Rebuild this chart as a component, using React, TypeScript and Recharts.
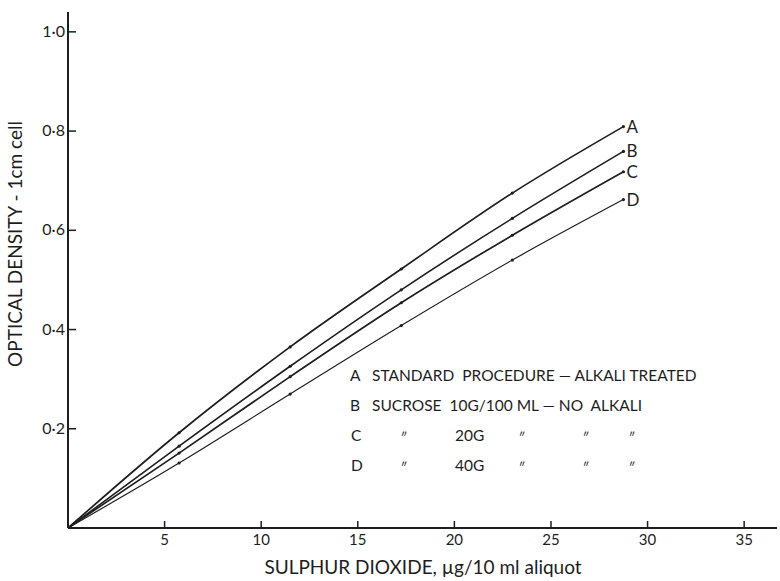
import React from "react";
import { LineChart, Line, XAxis, YAxis, LabelList, Customized } from "recharts";

// SO2 (µg / 10 ml aliquot) at which each standard was read
const so2 = [0, 5.75, 11.5, 17.25, 23, 28.75];

// optical density, 1 cm cell
const curveA = [0, 0.192, 0.365, 0.522, 0.675, 0.809];
const curveB = [0, 0.165, 0.326, 0.48, 0.624, 0.759];
const curveC = [0, 0.151, 0.305, 0.454, 0.59, 0.718];
const curveD = [0, 0.131, 0.27, 0.408, 0.54, 0.662];

const xTicks = [5, 10, 15, 20, 25, 30, 35];
const yTicks = [0.2, 0.4, 0.6, 0.8, 1.0];

const keyRows = [
  ["A", "STANDARD  PROCEDURE — ALKALI TREATED"],
  ["B", "SUCROSE  10G/100 ML — NO  ALKALI"],
  ["C", "″", "20G", "″", "″", "″"],
  ["D", "″", "40G", "″", "″", "″"],
];

const data = so2.map((x, i) => ({
  x,
  A: curveA[i],
  B: curveB[i],
  C: curveC[i],
  D: curveD[i],
}));

const INK = "#1e1e1e";
const FONT = "Lato, 'Open Sans', sans-serif";

const XTick = (props: any) => {
  const { x, y, payload } = props;
  return (
    <g>
      <line x1={x} x2={x} y1={y} y2={y - 7} stroke={INK} strokeWidth={1.5} />
      <text x={x} y={y + 17} textAnchor="middle" fontSize={15} fill={INK} fontFamily={FONT}>
        {payload.value}
      </text>
    </g>
  );
};

const YTick = (props: any) => {
  const { x, y, payload } = props;
  return (
    <g>
      <line x1={x} x2={x + 8} y1={y} y2={y} stroke={INK} strokeWidth={1.5} />
      <text x={x - 3} y={y + 5} textAnchor="end" fontSize={16} fill={INK} fontFamily={FONT}>
        {payload.value.toFixed(1).replace(".", "·")}
      </text>
    </g>
  );
};

const endLabel = (name: string) => (props: any) => {
  const { x, y, index } = props;
  if (index !== so2.length - 1) return null;
  return (
    <text x={x + 3} y={y + 6} fontSize={17} fill={INK} fontFamily={FONT}>
      {name}
    </text>
  );
};

const Key = () => {
  const cols = [400, 455, 518, 582, 628];
  return (
    <g fontFamily={FONT} fill={INK} fontSize={15.5}>
      {keyRows.map((row, r) => {
        const y = 381 + r * 30;
        if (row.length === 2) {
          return (
            <g key={r}>
              <text x={350} y={y}>{row[0]}</text>
              <text x={372} y={y} style={{ whiteSpace: "pre" }}>{row[1]}</text>
            </g>
          );
        }
        return (
          <g key={r}>
            <text x={351} y={y}>{row[0]}</text>
            {row.slice(1).map((t, j) => (
              <text
                key={j}
                x={cols[j]}
                y={t === "″" ? y + 2 : y}
                fontStyle={t === "″" ? "italic" : "normal"}
                fontSize={t === "″" ? 13 : 15.5}
              >
                {t}
              </text>
            ))}
          </g>
        );
      })}
    </g>
  );
};

const AxisTitles = () => (
  <g fontFamily={FONT} fill={INK}>
    <text x={423} y={574} textAnchor="middle" fontSize={19}>
      SULPHUR DIOXIDE, µg/10 ml aliquot
    </text>
    <text
      x={22}
      y={244}
      textAnchor="middle"
      fontSize={19}
      transform="rotate(-90 22 244)"
    >
      OPTICAL DENSITY - 1cm cell
    </text>
  </g>
);

export default function App() {
  const series: [string, number][] = [
    ["A", 1.7],
    ["B", 1.6],
    ["C", 1.7],
    ["D", 1.2],
  ];
  return (
    <div style={{ position: "absolute", left: 0, top: 0, background: "#fff" }}>
      <LineChart
        width={780}
        height={581}
        data={data}
        margin={{ top: 12, right: 3, bottom: 0, left: 0 }}
      >
        <XAxis
          dataKey="x"
          type="number"
          domain={[0, 36.7]}
          ticks={xTicks}
          tick={<XTick />}
          tickSize={0}
          tickMargin={0}
          height={53}
          axisLine={{ stroke: INK, strokeWidth: 2 }}
          tickLine={false}
          allowDataOverflow
        />
        <YAxis
          type="number"
          domain={[0, 1.04]}
          ticks={yTicks}
          tick={<YTick />}
          tickSize={0}
          tickMargin={0}
          width={68}
          axisLine={{ stroke: INK, strokeWidth: 2 }}
          tickLine={false}
          allowDataOverflow
        />
        {series.map(([key, w]) => (
          <Line
            key={key}
            dataKey={key}
            type="monotone"
            stroke={INK}
            strokeWidth={w}
            dot={{ r: 1.6, fill: INK, stroke: "none" }}
            activeDot={false}
            isAnimationActive={false}
          >
            <LabelList dataKey={key} content={endLabel(key)} />
          </Line>
        ))}
        <Customized component={Key} />
        <Customized component={AxisTitles} />
      </LineChart>
    </div>
  );
}
